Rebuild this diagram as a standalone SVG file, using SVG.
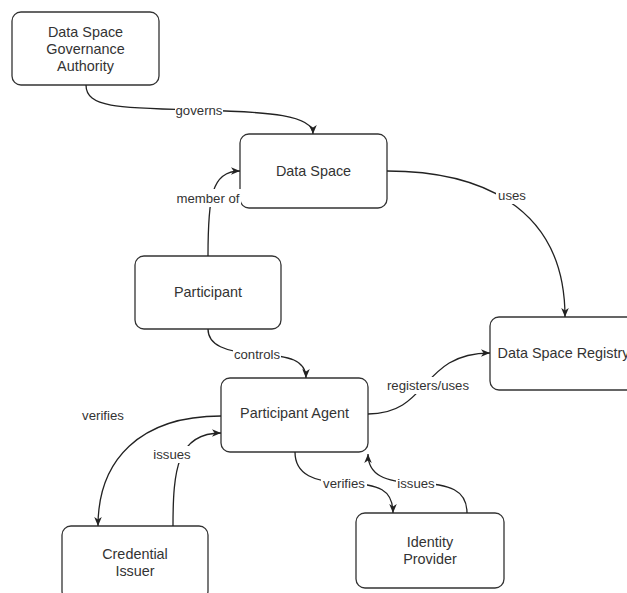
<svg xmlns="http://www.w3.org/2000/svg" width="627" height="593" viewBox="0 0 627 593">
<defs>
<marker id="arr" viewBox="0 0 10 10" markerWidth="9" markerHeight="9" markerUnits="userSpaceOnUse" refX="10" refY="5" orient="auto">
<path d="M0,0.8 L10,5 L0,9.2 L2.8,5 z" fill="#222"/>
</marker>
<style>
.box{fill:#fff;stroke:#333;stroke-width:1.3}
.t{font-family:"Liberation Sans",Arial,sans-serif;font-size:14.4px;fill:#333;text-anchor:middle}
.l{font-family:"Liberation Sans",Arial,sans-serif;font-size:13.2px;fill:#333;text-anchor:middle}
.e{fill:none;stroke:#222;stroke-width:1.3}
.a{marker-end:url(#arr)}
.bg{fill:#fff}
</style>
</defs>
<rect width="627" height="593" fill="#fff"/>
<g id="nodes">
<g id="governance"><rect class="box" x="12" y="12" width="147" height="73" rx="9"/><text class="t" x="85.5" y="37">Data Space</text><text class="t" x="85.5" y="54">Governance</text><text class="t" x="85.5" y="71">Authority</text></g>
<g id="dataspace"><rect class="box" x="240" y="134" width="147" height="74" rx="9"/><text class="t" x="313.5" y="176">Data Space</text></g>
<g id="participant"><rect class="box" x="135" y="256" width="146" height="73" rx="9"/><text class="t" x="208" y="297">Participant</text></g>
<g id="registry"><rect class="box" x="490" y="317" width="147" height="73" rx="9"/><text class="t" x="563.5" y="358">Data Space Registry</text></g>
<g id="agent"><rect class="box" x="221" y="378" width="147" height="74" rx="9"/><text class="t" x="294.5" y="418">Participant Agent</text></g>
<g id="credential"><rect class="box" x="62" y="526" width="146" height="74" rx="9"/><text class="t" x="135" y="559">Credential</text><text class="t" x="135" y="576">Issuer</text></g>
<g id="identity"><rect class="box" x="356" y="513" width="148" height="75" rx="9"/><text class="t" x="430" y="547">Identity</text><text class="t" x="430" y="564">Provider</text></g>
</g>
<g id="connectors">
<path class="e a" d="M86,85 C86,108 120,108 199,110 C270,112 313,115 313,134"/>
<path class="e a" d="M208,256 C208,198 211,171 240,171"/>
<path class="e a" d="M387,171 C470,171 565,200 565,317"/>
<path class="e a" d="M208,329 C208,345 225,352 257,354 C290,356 306,360 306,378"/>
<path class="e a" d="M368,414 C430,414 420,353 490,353"/>
<path class="e a" d="M221,416 C140,416 98,460 98,526"/>
<path class="e a" d="M173,526 C173,470 177,433 221,433"/>
<path class="e a" d="M295,452 C295,475 315,482 344,483 C380,484 393,490 393,513"/>
<path class="e a" d="M467,513 C467,490 450,484 416,483 C385,482 368,475 368,454"/>
<rect class="bg" x="175" y="102" width="48" height="16"/><text class="l" x="199" y="114.5">governs</text>
<rect class="bg" x="176" y="189" width="65" height="18"/><text class="l" x="208" y="202.5">member of</text>
<rect class="bg" x="496" y="187" width="32" height="17"/><text class="l" x="512" y="200">uses</text>
<rect class="bg" x="233" y="346" width="48" height="16"/><text class="l" x="257" y="358.5">controls</text>
<rect class="bg" x="386" y="377" width="84" height="17"/><text class="l" x="428" y="389.5">registers/uses</text>
<text class="l" x="103" y="419.5">verifies</text>
<rect class="bg" x="152" y="446" width="40" height="17"/><text class="l" x="172" y="458.5">issues</text>
<rect class="bg" x="321" y="475" width="46" height="16"/><text class="l" x="344" y="487.5">verifies</text>
<rect class="bg" x="396" y="475" width="40" height="16"/><text class="l" x="416" y="487.5">issues</text>
</g>
</svg>
